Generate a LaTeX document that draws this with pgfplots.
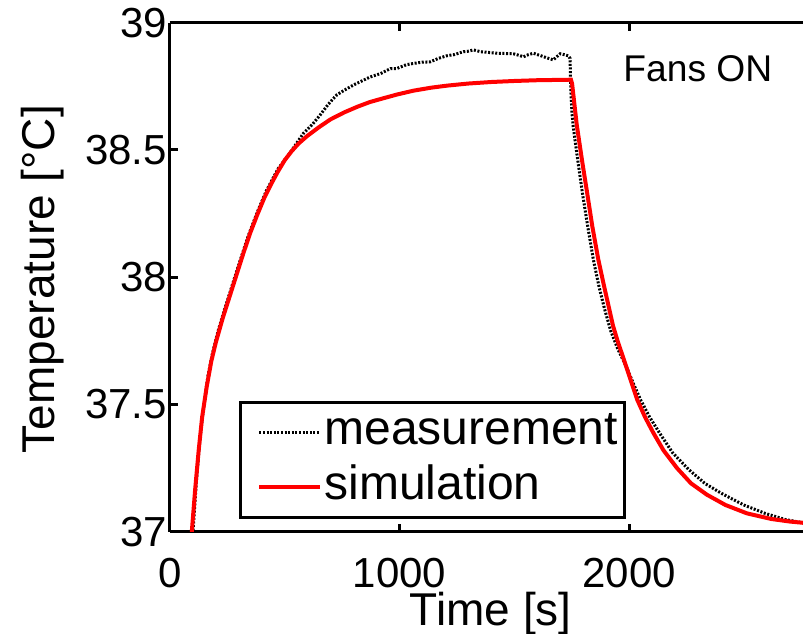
\documentclass[border=0pt]{standalone}
\usepackage{pgfplots}
\pgfplotsset{compat=1.18}
\usepackage{fontspec}
\setmainfont{Liberation Sans}

\begin{document}
\begin{tikzpicture}
\begin{axis}[
  scale only axis,
  width=316.5pt, height=254.5pt,
  xmin=0, xmax=2758, ymin=37, ymax=39,
  axis x line=box, axis y line=left,
  axis line style={-, line width=1.5pt, black},
  tick align=inside,
  xtick={0,1000,2000}, xticklabels={0,1000,2000},
  ytick={37,37.5,38,38.5,39}, yticklabels={37,37.5,38,38.5,39},
  major tick length=4pt,
  tick style={line width=1.5pt, black},
  /pgf/number format/assume math mode=true,
  tick label style={font=\fontsize{21}{25}\selectfont},
  xticklabel style={yshift=-9.5pt},
  yticklabel style={xshift=2pt},
  legend cell align=left,
  legend image code/.code={\path (-5pt,0pt); \draw[#1] (0pt,0pt) -- (30.5pt,0pt);},
  legend style={at={(axis description cs:0.109,0.025)}, anchor=south west,
    draw=black, line width=1.5pt, fill=white,
    font=\fontsize{24}{28}\selectfont,
    nodes={inner sep=0pt, text height=17pt, text depth=5pt},
    row sep=5.5pt, column sep=1pt, inner xsep=3.5pt, inner ysep=4pt},
]
\addplot[black, line width=1.5pt, dash pattern=on 1pt off 0.8pt] coordinates {
(90,36.92) (100,37.0) (115,37.2) (130,37.36) (145,37.48) (165,37.61) (185,37.70)
(210,37.79) (240,37.88) (270,37.965) (300,38.05) (340,38.16) (380,38.255) (420,38.34)
(470,38.425) (524,38.49) (581,38.565) (620,38.60) (654,38.637) (690,38.68) (726,38.716)
(760,38.735) (799,38.755) (840,38.773) (873,38.787) (917,38.80) (961,38.82) (988,38.82)
(1030,38.835) (1061,38.84) (1100,38.845) (1133,38.846) (1170,38.86) (1206,38.87)
(1240,38.875) (1278,38.886) (1300,38.888) (1322,38.893) (1354,38.886) (1390,38.883)
(1424,38.88) (1460,38.879) (1496,38.878) (1520,38.872) (1540,38.866) (1560,38.874)
(1583,38.88) (1610,38.872) (1642,38.862) (1670,38.854) (1685,38.866) (1700,38.878)
(1720,38.874) (1735,38.87) (1743,38.86) (1745,38.78) (1748,38.70) (1752,38.64)
(1757,38.59) (1775,38.47) (1797,38.33) (1820,38.20) (1845,38.067) (1870,37.96)
(1895,37.87) (1920,37.79) (1950,37.72) (1990,37.645) (2020,37.58) (2051,37.517)
(2090,37.45) (2135,37.385) (2190,37.31) (2259,37.245) (2330,37.19) (2404,37.15)
(2500,37.105) (2593,37.072) (2680,37.048) (2758,37.035)
};
\addlegendentry{measurement}
\addplot[red, line width=2pt] coordinates {
(85,36.89) (95,37.0) (110,37.17) (125,37.32) (140,37.45) (160,37.57) (180,37.67)
(200,37.745) (230,37.84) (260,37.925) (290,38.01) (320,38.095) (350,38.175) (380,38.245)
(410,38.31) (440,38.365) (470,38.415) (500,38.46) (530,38.495) (560,38.525) (598,38.555)
(650,38.59) (699,38.62) (760,38.648) (817,38.67) (870,38.688) (917,38.70) (990,38.718)
(1061,38.733) (1140,38.745) (1210,38.753) (1300,38.761) (1400,38.767) (1500,38.771)
(1600,38.774) (1747,38.776) (1752,38.76) (1772,38.60) (1795,38.46) (1816,38.34) (1840,38.20)
(1866,38.07) (1890,37.97) (1910,37.89) (1930,37.81) (1950,37.75) (1991,37.64)
(2035,37.52) (2070,37.45) (2105,37.39) (2150,37.32) (2209,37.25) (2270,37.19)
(2340,37.145) (2420,37.105) (2514,37.072) (2620,37.05) (2700,37.04) (2758,37.035)
};
\addlegendentry{simulation}
\node[anchor=base west, font=\fontsize{18.6}{22}\selectfont, inner sep=0pt] at (axis cs:1974,38.768) {Fans ON};
\end{axis}
\node[rotate=90, anchor=base, font=\fontsize{23}{27}\selectfont, inner sep=0pt] at ([xshift=-57.5pt,yshift=-1pt]current axis.west) {Temperature [°C]};
\node[anchor=base, font=\fontsize{23}{27}\selectfont, inner sep=0pt] at ([xshift=2.1pt,yshift=-46.75pt]current axis.south) {Time [s]};
\pgfresetboundingbox
\path ([xshift=-85pt,yshift=-50.75pt]current axis.south west) rectangle ([yshift=11.35pt]current axis.north east);
\end{tikzpicture}
\end{document}
